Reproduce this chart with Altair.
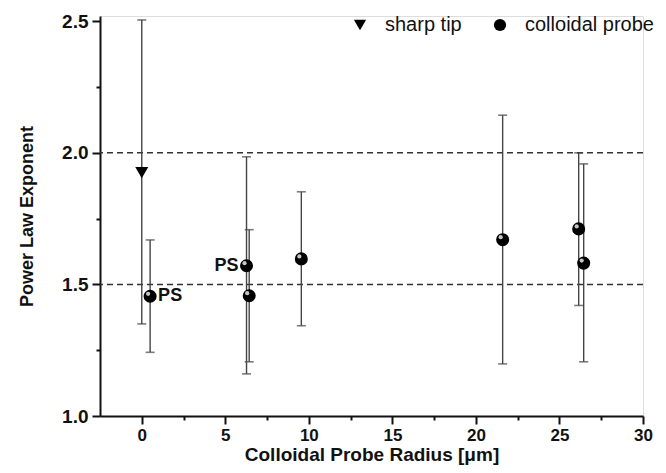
import altair as alt
import pandas as pd

# ---- data ----
probe_type = ["sharp tip", "colloidal probe", "colloidal probe", "colloidal probe",
              "colloidal probe", "colloidal probe", "colloidal probe", "colloidal probe"]
radius = [0.0, 0.5, 6.27, 6.43, 9.55, 21.6, 26.15, 26.45]
exponent = [1.925, 1.455, 1.571, 1.457, 1.597, 1.670, 1.711, 1.581]
err_low = [1.350, 1.242, 1.160, 1.206, 1.343, 1.198, 1.420, 1.206]
err_high = [2.505, 1.669, 1.985, 1.708, 1.852, 2.143, 2.000, 1.958]
label = ["", "PS", "PS", "", "", "", "", ""]
label_side = ["", "right", "left", "", "", "", "", ""]

ref_lines = [1.5, 2.0]
x_ticks = [0, 2.5, 5, 7.5, 10, 12.5, 15, 17.5, 20, 22.5, 25, 27.5, 30]
y_ticks = [1.0, 1.25, 1.5, 1.75, 2.0, 2.25, 2.5]

df = pd.DataFrame({
    "type": probe_type, "x": radius, "y": exponent,
    "lo": err_low, "hi": err_high, "label": label, "side": label_side,
})
ref_df = pd.DataFrame({"y": ref_lines})

FONT = "Liberation Sans"

xscale = alt.Scale(domain=[-2.5, 30], nice=False, zero=False)
yscale = alt.Scale(domain=[1.0, 2.52], nice=False, zero=False)

x_axis = alt.Axis(
    values=x_ticks, title="Colloidal Probe Radius [μm]",
    labelExpr="datum.value % 5 == 0 ? datum.label : ''",
    tickSize={"expr": "datum.value % 5 == 0 ? 8 : 4"},
    grid=False, labelFontSize=17, labelFontWeight="bold", labelFont=FONT,
    titleFontSize=19, titleFontWeight="bold", titleFont=FONT,
    titleBaseline="alphabetic", titleY=44,
    labelPadding=3, domainWidth=2, tickWidth=2, domainColor="#111", tickColor="#111",
    labelColor="#111", titleColor="#111", labelFlush=False,
)
y_axis = alt.Axis(
    values=y_ticks, title="Power Law Exponent", format=".1f",
    labelExpr="(datum.value * 2) % 1 == 0 ? datum.label : ''",
    tickSize={"expr": "(datum.value * 2) % 1 == 0 ? 8 : 4"},
    grid=False, labelFontSize=19, labelFontWeight="bold", labelFont=FONT,
    titleFontSize=18, titleFontWeight="bold", titleFont=FONT, titlePadding=25,
    labelPadding=4, domainWidth=2, tickWidth=2, domainColor="#111", tickColor="#111",
    labelColor="#111", titleColor="#111", labelFlush=False,
)

X = alt.X("x:Q", scale=xscale, axis=x_axis)
Y = alt.Y("y:Q", scale=yscale, axis=y_axis)

base = alt.Chart(df)

refs = alt.Chart(ref_df).mark_rule(
    color="#333", strokeDash=[6, 4], strokeWidth=1.5
).encode(y=alt.Y("y:Q", scale=yscale))

bars = base.mark_rule(color="#444", strokeWidth=1.4).encode(
    x=X, y=alt.Y("lo:Q", scale=yscale), y2="hi:Q"
)
cap_lo = base.mark_tick(color="#444", orient="horizontal", size=9, thickness=1.6).encode(
    x=alt.X("x:Q", scale=xscale), y=alt.Y("lo:Q", scale=yscale)
)
cap_hi = base.mark_tick(color="#444", orient="horizontal", size=9, thickness=1.6).encode(
    x=alt.X("x:Q", scale=xscale), y=alt.Y("hi:Q", scale=yscale)
)

shape_scale = alt.Scale(domain=["sharp tip", "colloidal probe"],
                        range=["triangle-down", "circle"])

points = base.mark_point(filled=True, color="black", size=170, opacity=1).encode(
    x=X, y=Y,
    shape=alt.Shape("type:N", scale=shape_scale, legend=alt.Legend(
        title=None, orient="none", direction="horizontal",
        legendX=250, legendY=-1, labelFont=FONT, labelFontSize=20,
        labelColor="#111", symbolFillColor="black", symbolStrokeColor="black",
        symbolSize=150, columnPadding=28, labelOffset=15,
    )),
)

shine = base.transform_filter("datum.type == 'colloidal probe'").mark_point(
    filled=True, color="#dcdcdc", size=18, xOffset=-2, yOffset=-2.5, opacity=0.9
).encode(x=alt.X("x:Q", scale=xscale), y=alt.Y("y:Q", scale=yscale))

txt_right = base.transform_filter("datum.side == 'right'").mark_text(
    align="left", dx=8, font=FONT, fontSize=18, fontWeight="bold", color="#111"
).encode(x=alt.X("x:Q", scale=xscale), y=alt.Y("y:Q", scale=yscale), text="label:N")
txt_left = base.transform_filter("datum.side == 'left'").mark_text(
    align="right", dx=-8, font=FONT, fontSize=18, fontWeight="bold", color="#111"
).encode(x=alt.X("x:Q", scale=xscale), y=alt.Y("y:Q", scale=yscale), text="label:N")

chart = alt.layer(refs, bars, cap_lo, cap_hi, points, shine, txt_right, txt_left).properties(
    width=543, height=400,
    autosize=alt.AutoSizeParams(type="none"),
    padding={"left": 92, "top": 8, "right": 15, "bottom": 49},
).configure_view(stroke=None).configure(background="white")

chart.save("out.html", embed_options={"renderer": "svg", "actions": False})
